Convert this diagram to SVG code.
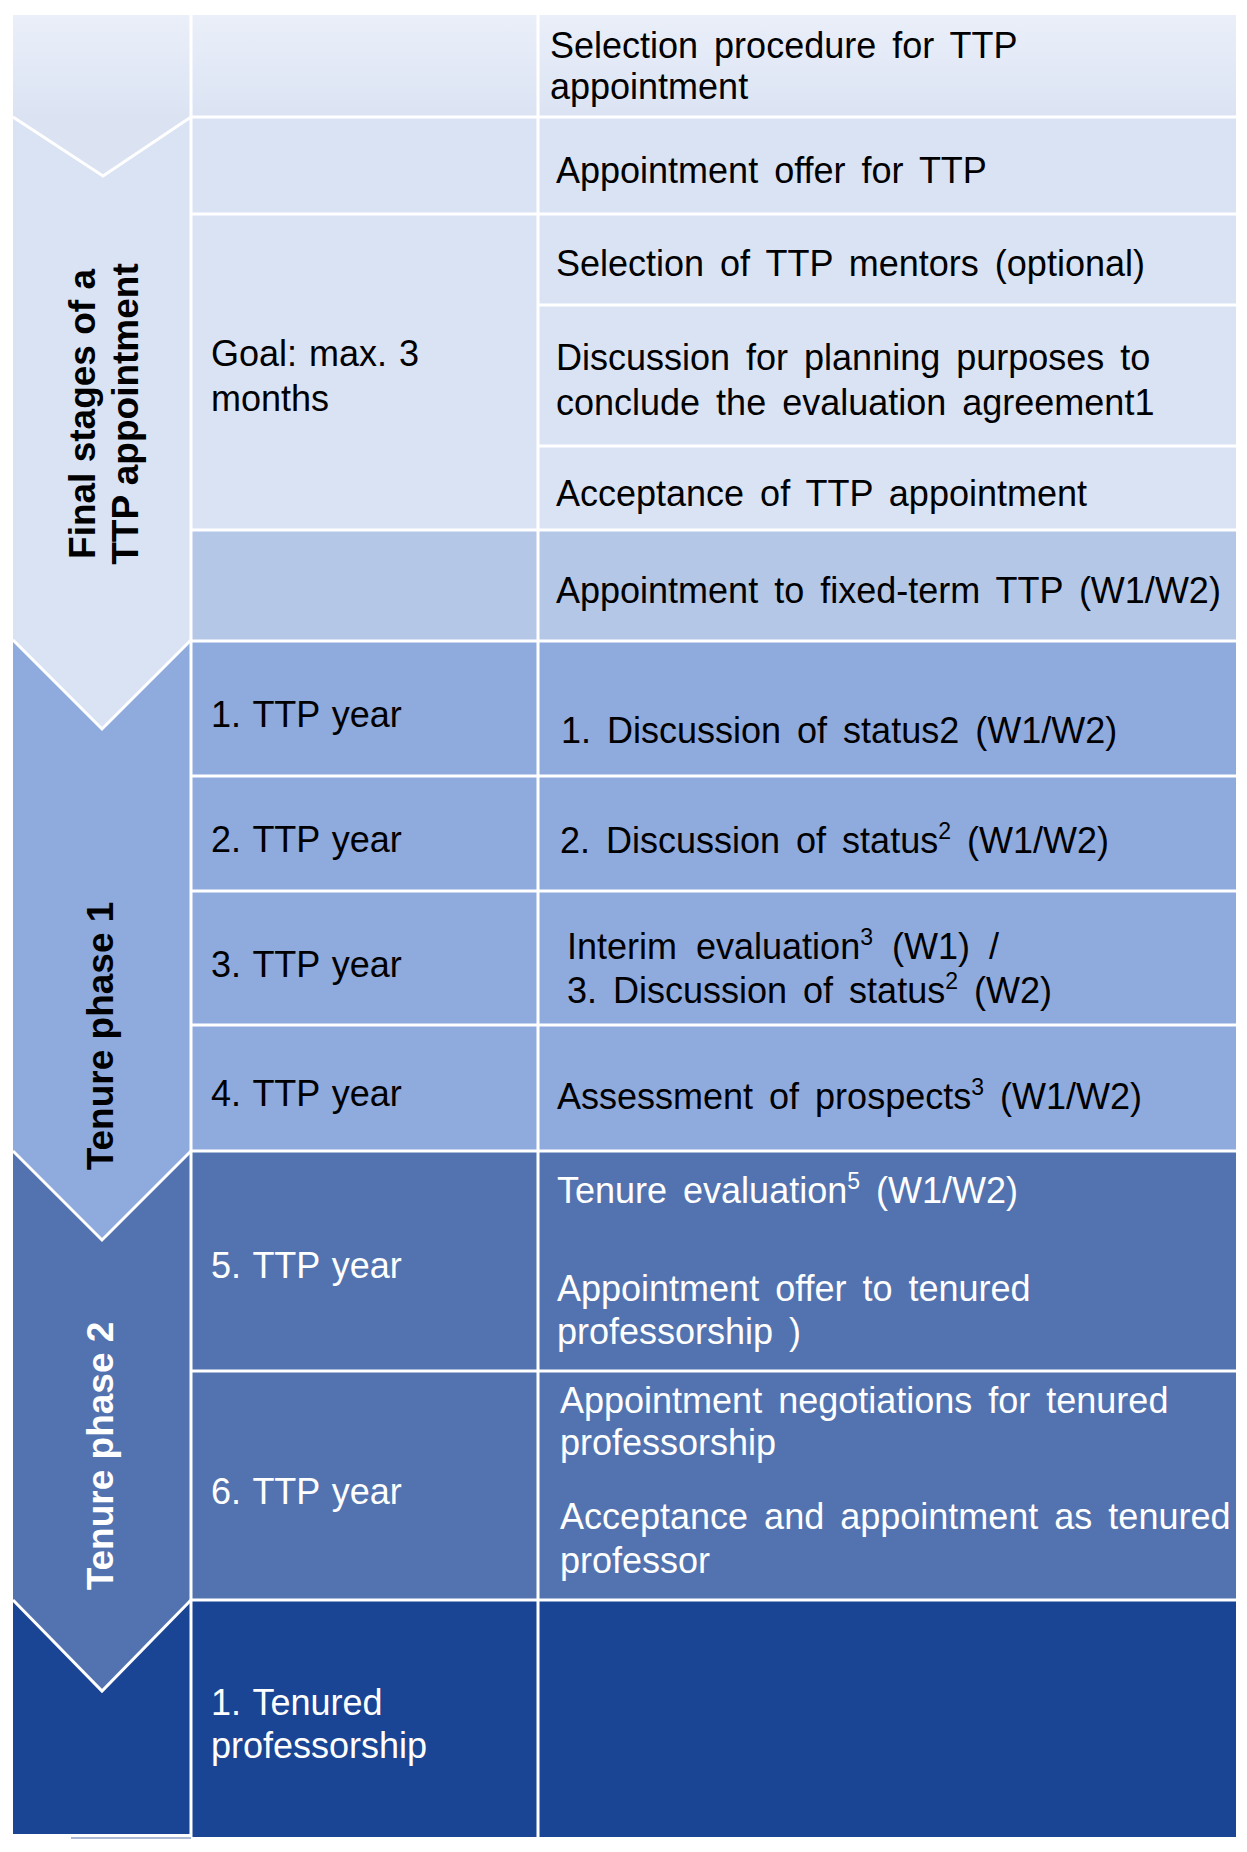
<svg xmlns="http://www.w3.org/2000/svg" width="1247" height="1852" viewBox="0 0 1247 1852">
<defs>
<linearGradient id="g1" gradientUnits="userSpaceOnUse" x1="0" y1="15" x2="0" y2="117">
<stop offset="0" stop-color="#eaeff9"/>
<stop offset="1" stop-color="#dbe3f3"/>
</linearGradient>
<style>
text{font-family:"Liberation Sans",Arial,sans-serif;font-size:36px;fill:#000}
.r{word-spacing:6px}
.m{word-spacing:2px}
.w{fill:#fff}
.b{font-weight:bold;font-size:37px}
.sep{stroke:#fff;stroke-width:3;fill:none}
.sup{font-size:23px}
</style>
</defs>
<rect width="1247" height="1852" fill="#fff"/>

<g id="row-fills">
<rect x="191" y="15" width="1045" height="102" fill="url(#g1)"/>
<rect x="191" y="117" width="1045" height="413" fill="#dae3f3"/>
<rect x="191" y="530" width="1045" height="111" fill="#b4c7e7"/>
<rect x="191" y="641" width="1045" height="510" fill="#8faadc"/>
<rect x="191" y="1151" width="1045" height="449" fill="#5373b0"/>
<rect x="191" y="1600" width="1045" height="237" fill="#1a4494"/>
</g>

<g id="phase-start">
<polygon points="13,15 191,15 191,117 103,176 13,117" fill="url(#g1)"/>
</g>
<g id="phase-final-stages">
<polygon points="13,117 103,176 191,117 191,640 102,729 13,640" fill="#dae3f3"/>
<text class="b" transform="translate(95,414) rotate(-90)" text-anchor="middle">Final stages of a</text>
<text class="b" transform="translate(138,414) rotate(-90)" text-anchor="middle">TTP appointment</text>
</g>
<g id="phase-tenure-1">
<polygon points="13,640 102,729 191,640 191,1151 102,1240 13,1151" fill="#8faadc"/>
<text class="b" transform="translate(113,1036) rotate(-90)" text-anchor="middle">Tenure phase 1</text>
</g>
<g id="phase-tenure-2">
<polygon points="13,1151 102,1240 191,1151 191,1600 102,1691 13,1600" fill="#5373b0"/>
<text class="b w" transform="translate(113,1456) rotate(-90)" text-anchor="middle">Tenure phase 2</text>
</g>
<g id="phase-tenured">
<polygon points="13,1600 102,1691 191,1600 191,1834 13,1834" fill="#1a4494"/>
</g>

<g id="separators" class="sep">
<polyline points="13,117 103,176 191,117"/>
<polyline points="13,640 102,729 191,640"/>
<polyline points="13,1151 102,1240 191,1151"/>
<polyline points="13,1600 102,1691 191,1600"/>
<line x1="191" y1="15" x2="191" y2="1837"/>
<line x1="538" y1="15" x2="538" y2="1837"/>
<line x1="191" y1="117" x2="1236" y2="117"/>
<line x1="191" y1="214" x2="1236" y2="214"/>
<line x1="538" y1="305" x2="1236" y2="305"/>
<line x1="538" y1="446" x2="1236" y2="446"/>
<line x1="191" y1="530" x2="1236" y2="530"/>
<line x1="191" y1="641" x2="1236" y2="641"/>
<line x1="191" y1="776" x2="1236" y2="776"/>
<line x1="191" y1="891" x2="1236" y2="891"/>
<line x1="191" y1="1025" x2="1236" y2="1025"/>
<line x1="191" y1="1151" x2="1236" y2="1151"/>
<line x1="191" y1="1371" x2="1236" y2="1371"/>
<line x1="191" y1="1600" x2="1236" y2="1600"/>
</g>
<line x1="71" y1="1838" x2="191" y2="1838" stroke="#8fa0c4" stroke-width="1.5"/>

<g id="row-selection">
<text class="r" x="550" y="58">Selection procedure for TTP</text>
<text class="r" x="550" y="99">appointment</text>
</g>
<g id="row-offer">
<text class="r" x="556" y="183">Appointment offer for TTP</text>
</g>
<g id="row-goal">
<text class="m" x="211" y="366">Goal: max. 3</text>
<text class="m" x="211" y="411">months</text>
<text class="r" x="556" y="276">Selection of TTP mentors (optional)</text>
<text class="r" x="556" y="370">Discussion for planning purposes to</text>
<text class="r" x="556" y="415">conclude the evaluation agreement1</text>
<text class="r" x="556" y="506">Acceptance of TTP appointment</text>
</g>
<g id="row-fixed-term">
<text class="r" x="556" y="603">Appointment to fixed-term TTP (W1/W2)</text>
</g>
<g id="row-year1">
<text class="m" x="211" y="727">1. TTP year</text>
<text class="r" x="561" y="743">1. Discussion of status2 (W1/W2)</text>
</g>
<g id="row-year2">
<text class="m" x="211" y="852">2. TTP year</text>
<text class="r" x="560" y="853">2. Discussion of status<tspan class="sup" dy="-14">2</tspan><tspan dy="14"> (W1/W2)</tspan></text>
</g>
<g id="row-year3">
<text class="m" x="211" y="977">3. TTP year</text>
<text class="r" x="567" y="959" style="word-spacing:9px">Interim evaluation<tspan class="sup" dy="-14">3</tspan><tspan dy="14"> (W1) /</tspan></text>
<text class="r" x="567" y="1003">3. Discussion of status<tspan class="sup" dy="-14">2</tspan><tspan dy="14"> (W2)</tspan></text>
</g>
<g id="row-year4">
<text class="m" x="211" y="1106">4. TTP year</text>
<text class="r" x="557" y="1109">Assessment of prospects<tspan class="sup" dy="-14">3</tspan><tspan dy="14"> (W1/W2)</tspan></text>
</g>
<g id="row-year5">
<text class="w m" x="211" y="1278">5. TTP year</text>
<text class="w r" x="557" y="1203">Tenure evaluation<tspan class="sup" dy="-14">5</tspan><tspan dy="14"> (W1/W2)</tspan></text>
<text class="w r" x="557" y="1301">Appointment offer to tenured</text>
<text class="w r" x="557" y="1344">professorship )</text>
</g>
<g id="row-year6">
<text class="w m" x="211" y="1504">6. TTP year</text>
<text class="w r" x="560" y="1413">Appointment negotiations for tenured</text>
<text class="w r" x="560" y="1455">professorship</text>
<text class="w r" x="560" y="1529">Acceptance and appointment as tenured</text>
<text class="w r" x="560" y="1573">professor</text>
</g>
<g id="row-tenured">
<text class="w m" x="211" y="1715">1. Tenured</text>
<text class="w m" x="211" y="1758">professorship</text>
</g>
</svg>
